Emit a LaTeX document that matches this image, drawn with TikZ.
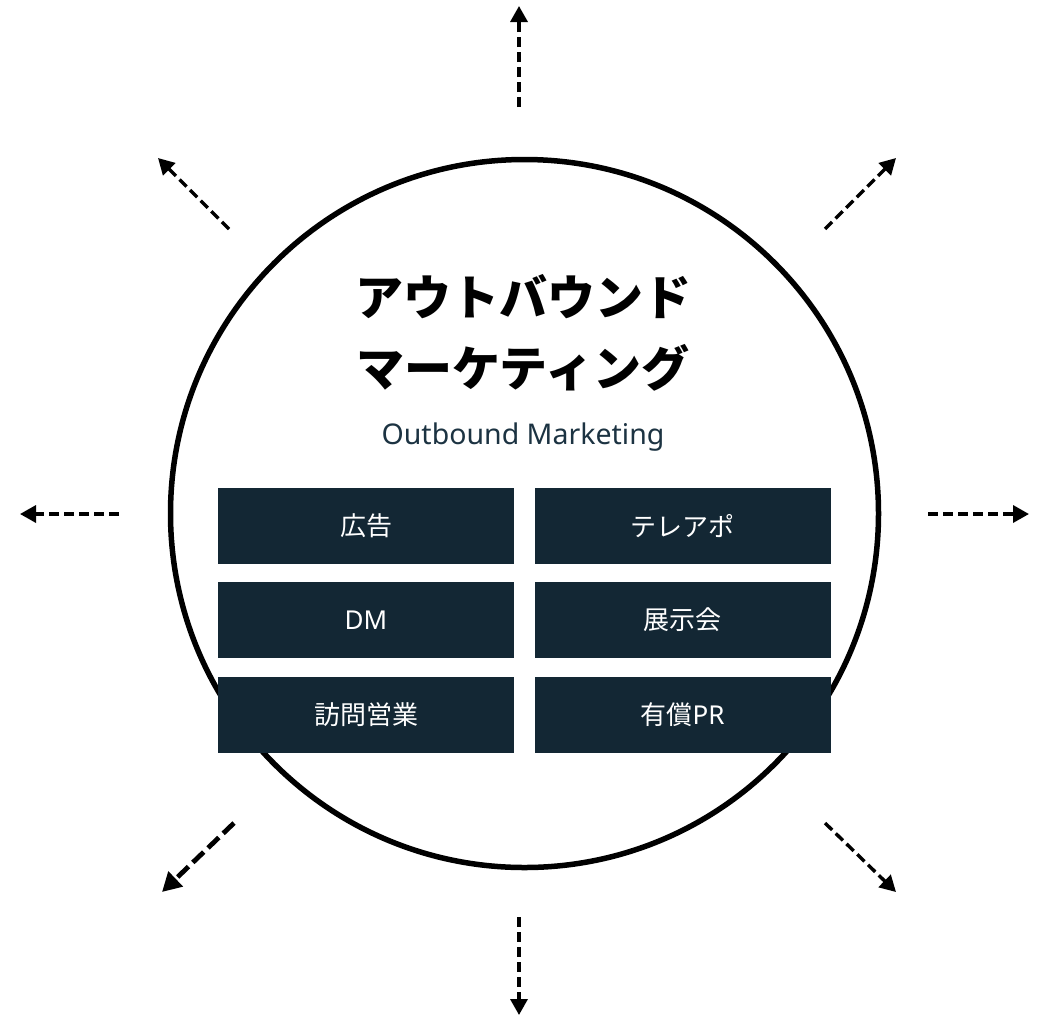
\documentclass[tikz,border=0pt]{standalone}
\usepackage{fontspec}
\setmainfont{Noto Sans CJK JP}
\newfontfamily\latinfont{Noto Sans}
\usetikzlibrary{arrows.meta}
\definecolor{navy}{HTML}{132734}
\definecolor{subnavy}{HTML}{1C3342}
\tikzset{
  outarrow/.style={line width=3.4pt, dash pattern=on 10pt off 5pt, -{Triangle[length=16pt,width=17pt]}},
  thickarrow/.style={line width=4.8pt, dash pattern=on 15pt off 6pt, -{Triangle[length=19pt,width=20pt]}},
  itembox/.style={fill=navy, minimum width=296pt, minimum height=76pt, inner sep=0pt, text=white, font=\fontsize{26}{30}\selectfont},
  titletext/.style={font=\fontsize{48}{52}\selectfont\bfseries},
}
\begin{document}
\begin{tikzpicture}[x=1pt,y=-1pt]
\useasboundingbox (0,0) rectangle (1043,1021);
\fill[white] (0,0) rectangle (1043,1021);
\node[circle, draw=black, line width=5.5pt, minimum size=708pt, inner sep=0pt] (circ) at (524.5,513.5) {};
\node[titletext] (t1) at (523,297) {アウトバウンド};
\node[titletext] (t2) at (523,368) {マーケティング};
\node[font=\fontsize{28.5}{32}\selectfont\latinfont, text=subnavy] (sub) at (523,437) {Outbound Marketing};
\node[itembox] (b1) at (366,526) {広告};
\node[itembox] (b2) at (682.5,526) {テレアポ};
\node[itembox] (b3) at (366,620) {\latinfont DM};
\node[itembox] (b4) at (682.5,620) {展示会};
\node[itembox] (b5) at (366,715) {訪問営業};
\node[itembox] (b6) at (682.5,715) {有償{\latinfont PR}};
% arrow ends
\coordinate (nS) at (519,107); \coordinate (nT) at (519,6);
\coordinate (nwS) at (229,229); \coordinate (nwT) at (158,158);
\coordinate (neS) at (825,229); \coordinate (neT) at (896,158);
\coordinate (wS) at (119,514); \coordinate (wT) at (20,514);
\coordinate (eS) at (928,514); \coordinate (eT) at (1029,514);
\coordinate (swS) at (234,823); \coordinate (swT) at (162,892);
\coordinate (seS) at (825,823); \coordinate (seT) at (896,892);
\coordinate (sS) at (519,917); \coordinate (sT) at (519,1015);
\draw[outarrow] (nS) -- (nT);
\draw[outarrow] (nwS) -- (nwT);
\draw[outarrow] (neS) -- (neT);
\draw[outarrow] (wS) -- (wT);
\draw[outarrow] (eS) -- (eT);
\draw[thickarrow] (swS) -- (swT);
\draw[outarrow] (seS) -- (seT);
\draw[outarrow] (sS) -- (sT);
\end{tikzpicture}
\end{document}
